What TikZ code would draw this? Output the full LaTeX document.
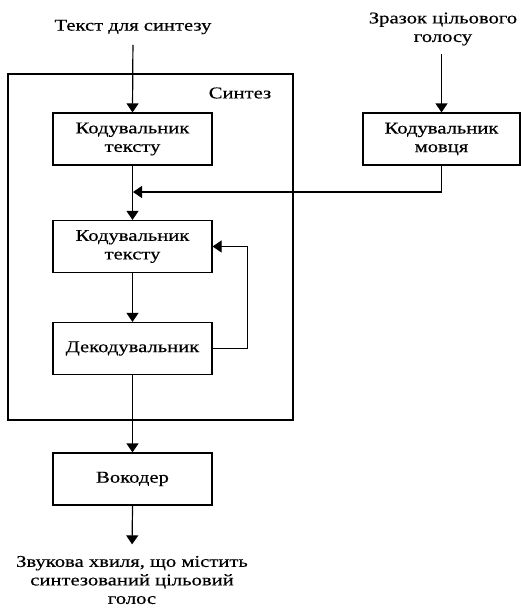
\documentclass[tikz,border=0pt]{standalone}
\usepackage{fontspec}
\setmainfont{Liberation Serif}[FakeStretch=1.25, FakeBold=0.4]
\usetikzlibrary{arrows.meta}

\begin{document}
\begin{tikzpicture}[
        x=1pt, y=-1pt,
        >={Triangle[length=9pt, width=12pt]},
        line width=1.2pt,
        font=\fontsize{16.5}{18.5}\selectfont,
        block/.style={draw, minimum width=159pt, minimum height=52pt, inner sep=2pt, align=center},
        label/.style={align=center, inner sep=1pt}
    ]
    \useasboundingbox (0,0) rectangle (521,610);

    % Рамка синтезу
    \node[draw, minimum width=285pt, minimum height=346pt, inner sep=0pt] (synth) at (150.5,247) {};
    \node[label] (synthname) at (240,93) {Синтез};

    % Входи
    \node[label] (txtin) at (133,27) {Текст для синтезу};
    \node[label] (sample) at (443,29) {Зразок цільового\\голосу};

    % Блоки
    \node[block] (enc) at (132.5,139) {Кодувальник\\тексту};
    \node[block, minimum width=157pt] (spk) at (441.5,139) {Кодувальник\\мовця};
    \node[block] (enc2) at (132.5,246.5) {Кодувальник\\тексту};
    \node[block] (dec) at (132.5,348.5) {Декодувальник};
    \node[block] (voc) at (132.5,479) {Вокодер};

    % Вихід
    \node[label] (wave) at (132,580) {Звукова хвиля, що містить\\синтезований цільовий\\голос};

    % Стрілки
    \coordinate (join) at (133,192);
    \draw[->, shorten <=9pt] (txtin.south) -- (enc.north);
    \draw[->, shorten <=7pt] (sample.south -| spk.north) -- (spk.north);
    \draw[->] (spk.south) |- (join);
    \draw[->] (enc.south) -- (enc2.north);
    \draw[->] (enc2.south) -- (dec.north);
    \draw[->] (dec.east) -- ++(35,0) |- (enc2.east);
    \draw[->] (dec.south) -- (voc.north);
    \draw[->, shorten >=10pt] (voc.south) -- (wave.north);

\end{tikzpicture}
\end{document}
